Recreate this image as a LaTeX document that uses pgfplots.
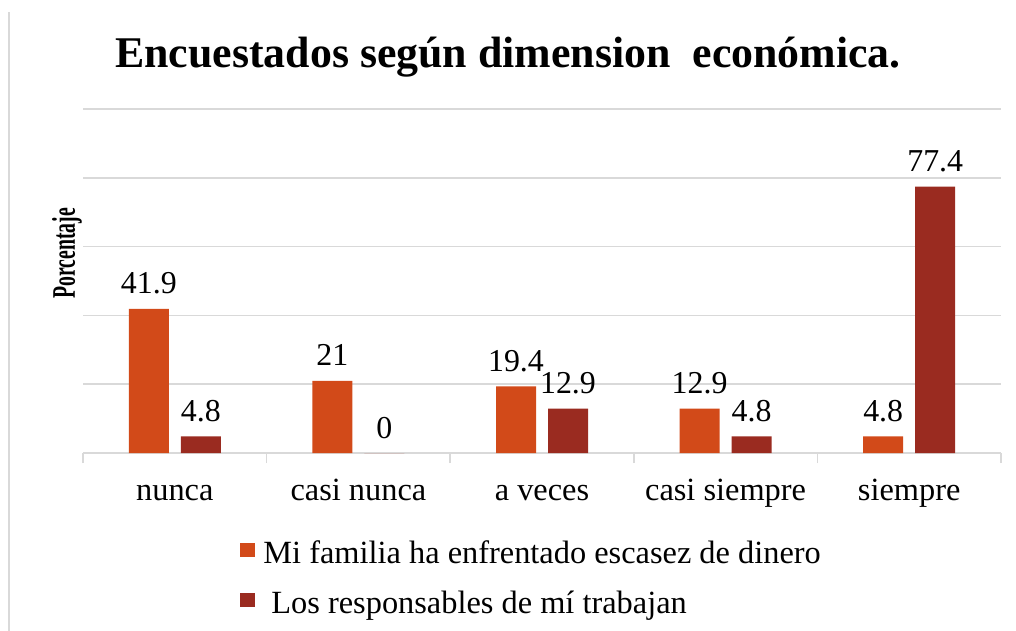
\documentclass[border=0pt]{standalone}
\usepackage{graphicx}
\usepackage{fontspec}
\setmainfont{Liberation Serif}
\usepackage{pgfplots}
\pgfplotsset{compat=1.18}
\definecolor{corange}{HTML}{D24A19}
\definecolor{cred}{HTML}{9A2B20}
\definecolor{cgrid}{HTML}{D9D9D9}
\begin{document}
\begin{tikzpicture}
\useasboundingbox (0,0) rectangle (1016bp,631bp);
\draw[cgrid, line width=1.5bp] (9bp,0) -- (9bp,619bp);
\node[anchor=base, font=\fontsize{44}{50}\selectfont\bfseries] at (508bp,563bp) {Encuestados según dimension\ \ económica.};
\begin{axis}[
  at={(83bp,178bp)}, anchor=south west,
  scale only axis, width=918bp, height=344bp,
  xmin=-0.5, xmax=4.5, ymin=0, ymax=100,
  clip=false,
  ybar=12bp, bar width=40bp,
  axis x line*=bottom, axis y line*=left,
  y axis line style={draw=none},
  x axis line style={cgrid, line width=1.5bp},
  xtick={0,1,2,3,4},
  xticklabels={nunca, casi nunca, a veces, casi siempre, siempre},
  major x tick style={draw=none},
  minor xtick={-0.5,0.5,1.5,2.5,3.5,4.5},
  minor x tick style={cgrid, line width=1.5bp},
  xtick align=outside, minor tick length=10bp,
  ytick={0,20,40,60,80,100}, yticklabels={},
  major y tick style={draw=none},
  ymajorgrids, grid style={cgrid, line width=1.5bp},
  tick label style={font=\fontsize{32.5}{38}\selectfont},
  xticklabel style={anchor=base, yshift=-43bp},
  /pgf/number format/assume math mode=true,
  nodes near coords,
  every node near coord/.append style={font=\fontsize{32}{38}\selectfont, anchor=base, yshift=15bp, text=black},
  ylabel={\scalebox{0.6}[1]{\fontsize{33}{39}\selectfont\bfseries Porcentaje}},
  ylabel style={at={(rel axis cs:-0.0175,0.581)}, anchor=center},
  legend style={at={(rel axis cs:0.168,-0.243)}, anchor=north west, draw=none, fill=none,
    font=\fontsize{32.5}{38}\selectfont, legend cell align=left, row sep=22bp,
    nodes={inner xsep=8bp}},
  legend image code/.code={\fill[#1] (0bp,-4bp) rectangle (15bp,10bp);},
]
\addplot[fill=corange, draw=none] coordinates {(0,41.9) (1,21) (2,19.4) (3,12.9) (4,4.8)};
\addplot[fill=cred, draw=none] coordinates {(0,4.8) (1,0) (2,12.9) (3,4.8) (4,77.4)};
\legend{Mi familia ha enfrentado escasez de dinero, \hspace{8bp}Los responsables de mí trabajan}
\end{axis}
\end{tikzpicture}
\end{document}
